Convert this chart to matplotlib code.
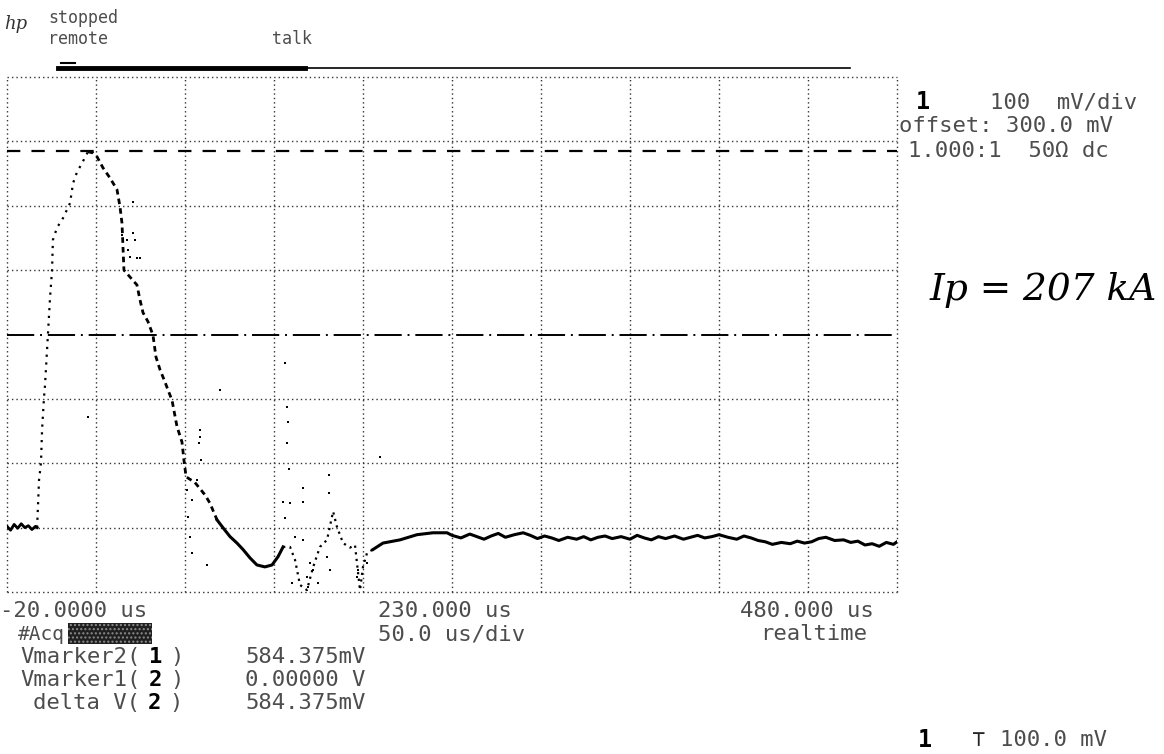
import matplotlib.pyplot as plt
from matplotlib.lines import Line2D
from matplotlib.patches import Rectangle

W, H = 1164, 754

# screen settings (time in us, channel 1 in mV)
t_left, t_right, t_div = -20, 480, 50
v_bottom, v_top, v_div = -100, 700, 100
vmarker2 = 584.375
ch2_zero = 300   # channel 2 zero shown on the centre line

# trace
pre_t = [-20, -18, -16, -14, -12, -10, -8, -6, -4, -3.1]
pre_v = [2, -4, 5, -1, 6, 0, 3, -3, 2, 0]

rise_t = [-3.1, -2.0, -0.9, -0.3, 0.8, 1.3, 2.5, 4.2, 5.3, 5.8, 8.1, 11.5, 15.4,
          17.1, 19.3, 22.1, 25.5]
rise_v = [0, 74, 101, 152, 203, 219, 276, 358, 400, 447, 466, 481, 504, 535,
          552, 566, 584]

fall_t = [25.5, 28.3, 30.6, 33.9, 37.9, 41.8, 43.5, 44.6, 45.7, 53.0, 54.7, 56.4,
          59.2, 62.0, 63.7, 66.0, 68.8, 70.4, 72.7, 75.5, 78.3, 79.4, 80.6, 85.6,
          91.2, 94.0, 98.0]
fall_v = [584, 582, 576, 559, 543, 525, 498, 473, 400, 377, 354, 334, 320, 299,
          265, 245, 226, 214, 198, 157, 133, 105, 79, 70, 51, 38, 12]

low_t = [98.0, 101.3, 105.3, 109.2, 112.6, 116.5, 120.4, 124.9, 128.9, 132.3, 135.1]
low_v = [12, 0, -14, -24, -34, -47, -58, -61, -58, -45, -30]

osc_t = [135.1, 139.0, 141.8, 144.6, 148.5, 151.9, 155.8, 159.8, 163.2, 165.4,
         168.8, 172.7, 175.5, 178.3, 180.0, 182.3, 185.6]
osc_v = [-30, -30, -50, -89, -97, -62, -30, -19, 25, 1, -24, -31, -27, -97, -61,
         -39, -34]

tail_t = [185.6, 191.2, 200.8, 210.3, 219.3, 227.2, 230, 235, 240, 244, 248, 252,
          256, 260, 265, 270, 274, 278, 282, 286, 290, 295, 300, 304, 308, 312,
          316, 320, 325, 330, 334, 338, 342, 346, 350, 355, 360, 364, 368, 372,
          376, 380, 385, 390, 394, 398, 402, 406, 410, 415, 420, 424, 428, 432,
          436, 440, 445, 450, 454, 458, 462, 466, 470, 474, 478, 480]
tail_v = [-34, -24, -19, -11, -8, -8, -12, -16, -10, -14, -18, -13, -9, -15, -11,
          -8, -12, -17, -13, -16, -20, -15, -18, -14, -19, -15, -13, -17, -14,
          -18, -12, -16, -19, -14, -17, -13, -18, -15, -12, -16, -14, -11, -15,
          -18, -13, -16, -20, -22, -26, -23, -25, -21, -24, -22, -17, -15, -20,
          -19, -23, -21, -27, -25, -29, -23, -26, -22]

# stray sample dots
dots_t = [44.6, 47.4, 50.8, 51.9, 48.0, 49.1, 53.0, 54.7, 50.8,
          81.1, 83.9, 86.7, 90.1, 81.7, 83.9, 92.4, 82.8, 88.4, 87.9, 89.0, 88.4,
          135.1, 136.2, 137.3, 137.9, 138.4, 139.0, 136.2, 137.3,
          161.0, 161.0, 146.3, 146.3, 141.8, 146.3, 150.2, 151.9, 148.5, 140.1,
          159.8, 161.5, 154.8, 149.0, 177.2, 176.6, 182.3, 25.5, 99.7, 189.6]
dots_v = [455, 447, 458, 447, 431, 420, 419, 419, 506,
          59, 43, 74, 54, 17, -39, -58, -14, 152, 132, 105, 141,
          40, 15, 188, 164, 91, 39, 256, 132,
          82, 54, 62, 40, -14, -19, -55, -66, -76, -86,
          -45, -66, -86, -92, -66, -76, -55, 172, 214, 110]

mono = 'DejaVu Sans Mono'
grey = '0.3'

fig = plt.figure(figsize=(W / 100, H / 100), dpi=100)
ax = fig.add_axes([7 / W, 1 - 592 / H, 890 / W, 515 / H])
ax.set_xlim(t_left, t_right)
ax.set_ylim(v_bottom, v_top)
ax.axis('off')

# graticule
for t in range(t_left, t_right + 1, t_div):
    ax.axvline(t, color='0.2', lw=1.0, ls=(0, (1, 2.2)), clip_on=False)
for v in range(v_bottom, v_top + 1, v_div):
    if v != ch2_zero:
        ax.axhline(v, color='0.2', lw=1.0, ls=(0, (1, 2.2)), clip_on=False)

# voltage markers
ax.axhline(vmarker2, color='k', lw=1.6, ls=(0, (6, 5)))
ax.axhline(ch2_zero, color='k', lw=1.4, ls=(0, (14, 3, 1, 3)))

# trace
ax.plot(pre_t, pre_v, color='k', lw=2)
ax.plot(rise_t, rise_v, color='k', lw=1.6, ls=(0, (1, 2.5)))
ax.plot(fall_t, fall_v, color='k', lw=2, ls=(0, (2, 1.5)))
ax.plot(low_t, low_v, color='k', lw=2.2)
ax.plot(osc_t, osc_v, color='k', lw=1.6, ls=(0, (1, 2)))
ax.plot(tail_t, tail_v, color='k', lw=2.2)
ax.scatter(dots_t, dots_v, s=3, color='k', marker='s', lw=0)


def ftext(x, y, s, **kw):
    kw.setdefault('family', mono)
    kw.setdefault('color', grey)
    kw.setdefault('fontsize', 16)
    fig.text(x / W, 1 - y / H, s, va='center', ha='left', **kw)


# header
ftext(4, 24, 'hp', family='DejaVu Serif', style='italic', fontsize=13, color='0.2')
ftext(48, 18, 'stopped', fontsize=12)
ftext(48, 39, 'remote', fontsize=12)
ftext(272, 39, 'talk', fontsize=12)
fig.add_artist(Line2D([58 / W, 305 / W], [1 - 68 / H] * 2, lw=3.5, color='k'))
fig.add_artist(Line2D([305 / W, 850 / W], [1 - 68 / H] * 2, lw=1.2, color='k'))
fig.add_artist(Line2D([61 / W, 75 / W], [1 - 63 / H] * 2, lw=1.5, color='k'))

# channel settings
ftext(916, 102, '1', color='k', fontweight='bold', fontsize=17)
ftext(990, 102, '100  mV/div')
ftext(899, 126, 'offset: 300.0 mV')
ftext(908, 151, '1.000:1  50\u03a9 dc')

# handwritten note
ftext(930, 290, 'Ip = 207 kA', family='DejaVu Serif', style='italic',
      fontsize=27, color='k')

# time labels
ftext(0, 611, '-20.0000 us')
ftext(378, 611, '230.000 us')
ftext(740, 611, '480.000 us')
ftext(18, 634, '#Acq', fontsize=14)
fig.add_artist(Rectangle((68 / W, 1 - 644 / H), 84 / W, 21 / H, transform=fig.transFigure,
                         facecolor='0.12', edgecolor='0.55', hatch='....', lw=0))
ftext(378, 634, '50.0 us/div')
ftext(760, 634, 'realtime')

cw = 13.4  # char width in px at 16 pt mono
rows = [('Vmarker2(', '1', '584.375mV', 20, 657),
        ('Vmarker1(', '2', '0.00000 V', 20, 680),
        ('delta V(', '2', '584.375mV', 33, 703)]
for label, ch, val, x0, y0 in rows:
    ftext(x0, y0, label)
    ftext(x0 + (len(label) + 0.6) * cw, y0, ch, color='k', fontweight='bold')
    ftext(x0 + (len(label) + 2.2) * cw, y0, ')')
    ftext(245, y0, val)

ftext(918, 740, '1', color='k', fontweight='bold', fontsize=17)
ftext(972, 740, '\u22a4', color='0.15')
ftext(1000, 740, '100.0 mV')

fig.savefig('out.png', dpi=100)
